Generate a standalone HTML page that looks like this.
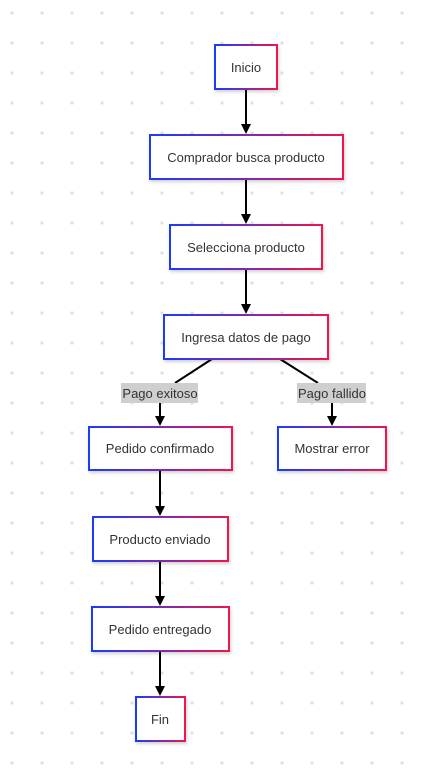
<!DOCTYPE html>
<html><head><meta charset="utf-8"><style>
html,body{margin:0;padding:0;background:#fff;}
svg{display:block;font-family:"Liberation Sans",Arial,sans-serif;}
</style></head><body>
<svg width="430" height="783" viewBox="0 0 430 783" xmlns="http://www.w3.org/2000/svg">
<defs>
<pattern id="dots" x="0" y="0" width="30" height="30" patternUnits="userSpaceOnUse">
<circle cx="12" cy="13" r="1.6" fill="#e0e0e0"/>
</pattern>
<linearGradient id="g" x1="0" y1="0" x2="1" y2="0">
<stop offset="0" stop-color="#1a3cf5"/><stop offset="0.5" stop-color="#7a2bb0"/><stop offset="1" stop-color="#f0144e"/>
</linearGradient>
<filter id="sh" x="-10%" y="-10%" width="130%" height="140%"><feDropShadow dx="1" dy="2" stdDeviation="1.5" flood-opacity="0.18"/></filter>
<marker id="ah" markerWidth="10" markerHeight="10" refX="5" refY="10" orient="auto-start-reverse" markerUnits="userSpaceOnUse" viewBox="0 0 10 10">
</marker>
</defs>
<rect width="430" height="783" fill="url(#dots)"/>
<g stroke="#000" stroke-width="2" fill="none">
<line x1="246" y1="89" x2="246" y2="125"/>
<line x1="246" y1="179" x2="246" y2="215"/>
<line x1="246" y1="269" x2="246" y2="305"/>
<line x1="212" y1="359" x2="175" y2="383"/>
<line x1="280" y1="359" x2="318" y2="383"/>
<line x1="160" y1="403" x2="160" y2="417"/>
<line x1="332" y1="403" x2="332" y2="417"/>
<line x1="160" y1="470" x2="160" y2="507"/>
<line x1="160" y1="561" x2="160" y2="597"/>
<line x1="160" y1="651" x2="160" y2="687"/>
</g>
<g fill="#000">
<path d="M241 124 L251 124 L246 134 Z"/>
<path d="M241 214 L251 214 L246 224 Z"/>
<path d="M241 304 L251 304 L246 314 Z"/>
<path d="M155 416 L165 416 L160 426 Z"/>
<path d="M327 416 L337 416 L332 426 Z"/>
<path d="M155 506 L165 506 L160 516 Z"/>
<path d="M155 596 L165 596 L160 606 Z"/>
<path d="M155 686 L165 686 L160 696 Z"/>
</g>
<rect x="121" y="383" width="77" height="20" fill="#cfcfcf"/>
<rect x="297" y="383" width="69" height="20" fill="#cfcfcf"/>
<g font-size="13" fill="#333" text-anchor="middle">
<text x="160" y="398">Pago exitoso</text>
<text x="332" y="398">Pago fallido</text>
</g>
<g fill="#fff" stroke="url(#g)" stroke-width="2" filter="url(#sh)">
<rect x="215" y="45" width="62" height="44"/>
<rect x="150" y="135" width="193" height="44"/>
<rect x="170" y="225" width="152" height="44"/>
<rect x="164" y="315" width="164" height="44"/>
<rect x="89" y="427" width="143" height="43"/>
<rect x="278" y="427" width="108" height="43"/>
<rect x="93" y="517" width="135" height="44"/>
<rect x="92" y="607" width="137" height="44"/>
<rect x="136" y="697" width="49" height="44"/>
</g>
<g font-size="13" fill="#333" text-anchor="middle">
<text x="246" y="72">Inicio</text>
<text x="246" y="162">Comprador busca producto</text>
<text x="246" y="252">Selecciona producto</text>
<text x="246" y="342">Ingresa datos de pago</text>
<text x="160" y="453">Pedido confirmado</text>
<text x="332" y="453">Mostrar error</text>
<text x="160" y="544">Producto enviado</text>
<text x="160" y="634">Pedido entregado</text>
<text x="160" y="724">Fin</text>
</g>
</svg>
</body></html>
